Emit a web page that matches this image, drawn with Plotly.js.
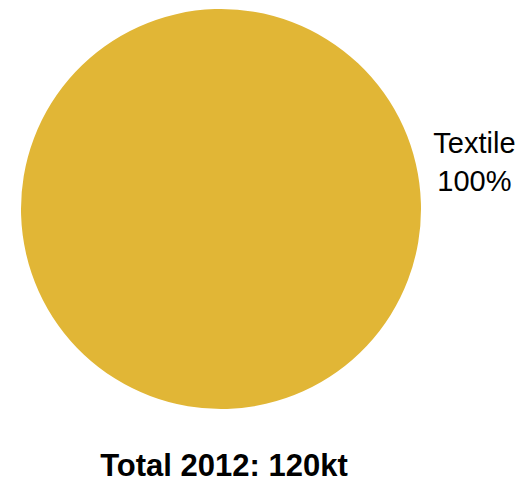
<!DOCTYPE html>
<html>
<head>
<meta charset="utf-8">
<script src="https://cdn.plot.ly/plotly-3.0.1.min.js"></script>
<style>html,body{margin:0;padding:0;background:#fff;}#chart{width:524px;height:484px;}</style>
</head>
<body>
<div id="chart"></div>
<script>
const categories = ["Textile"];
const values = [120];
const colors = ["#E1B636"];
const titleText = "Total 2012: 120kt";

const trace = {
  type: "pie",
  labels: categories,
  values: values,
  marker: {colors: colors, line: {width: 0}},
  textinfo: "label+percent",
  textposition: "outside",
  sort: false,
  direction: "clockwise",
  rotation: -103,
  showlegend: false,
  automargin: false,
  outsidetextfont: {family: "Liberation Sans, Arial, sans-serif", size: 29, color: "#000"},
  hoverinfo: "label+value+percent",
  domain: {x: [21/524, 421/524], y: [1 - 409/484, 1 - 9/484]}
};

const layout = {
  width: 524, height: 484,
  margin: {l: 0, r: 0, t: 0, b: 0},
  paper_bgcolor: "#fff",
  showlegend: false,
  title: {
    text: "<b>" + titleText + "</b>",
    font: {family: "Liberation Sans, Arial, sans-serif", size: 31, color: "#000"},
    x: 224/524, xanchor: "center", xref: "paper",
    y: 1 - 465/484, yanchor: "middle", yref: "container"
  }
};

Plotly.newPlot("chart", [trace], layout, {displayModeBar: false, staticPlot: true});
</script>
</body>
</html>
